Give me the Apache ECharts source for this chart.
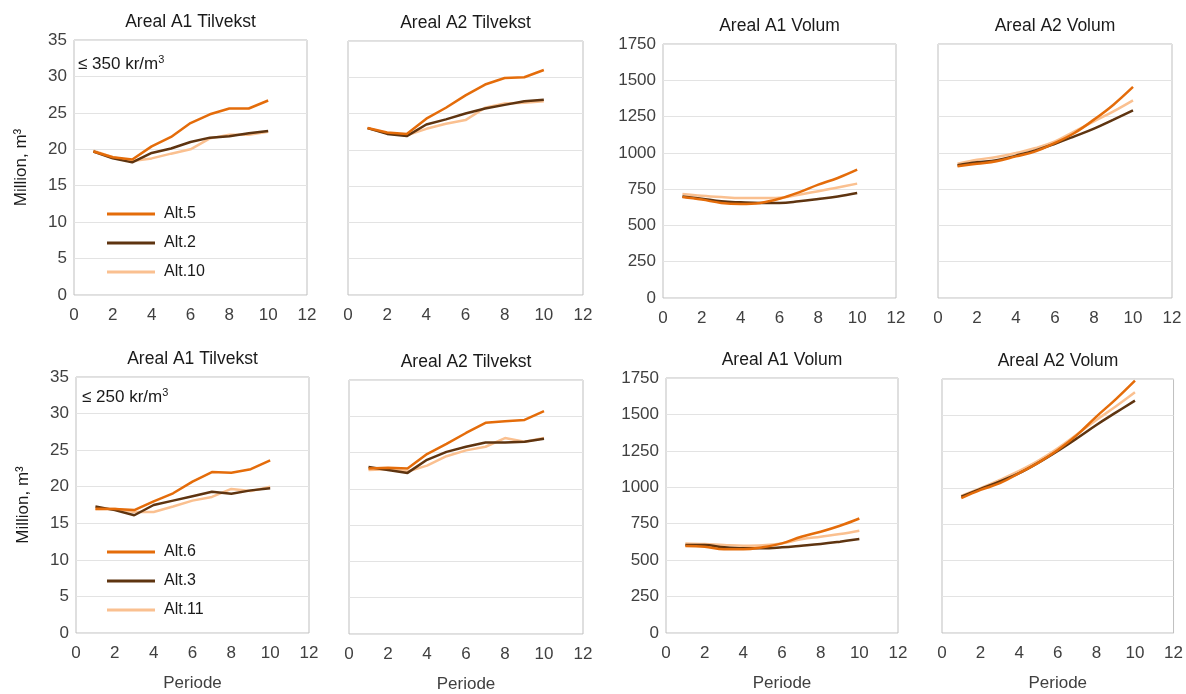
<!DOCTYPE html>
<html>
<head>
<meta charset="utf-8">
<script src="https://cdn.jsdelivr.net/npm/echarts@6/dist/echarts.min.js"></script>
<style>
html,body{margin:0;padding:0;background:#fff;}
#c{width:1186px;height:694px;}
</style>
</head>
<body>
<div id="c"></div>
<script>
// Periods
const periods = [1,2,3,4,5,6,7,8,9,10];
const xTicks = [0,2,4,6,8,10,12];

// Panel titles
const titles = ['Areal A1 Tilvekst','Areal A2 Tilvekst','Areal A1 Volum','Areal A2 Volum'];

// Top row (≤ 350 kr/m3): Alt.5, Alt.2, Alt.10
const topNames = ['Alt.5','Alt.2','Alt.10'];
const a1TilTop_alt5  = [19.7,18.9,18.6,20.4,21.7,23.6,24.8,25.6,25.6,26.7];
const a1TilTop_alt2  = [19.7,18.75,18.2,19.5,20.1,21.0,21.6,21.8,22.2,22.5];
const a1TilTop_alt10 = [19.8,18.9,18.4,18.75,19.4,20.0,21.5,22.0,22.0,22.4];

const a2TilTop_alt5  = [23.0,22.4,22.2,24.3,25.8,27.5,29.0,29.9,30.0,31.0];
const a2TilTop_alt2  = [23.0,22.2,21.9,23.5,24.2,25.0,25.7,26.2,26.7,26.9];
const a2TilTop_alt10 = [23.0,22.3,22.0,22.9,23.6,24.1,25.8,26.4,26.5,26.7];

const a1VolTop_alt5  = [696,678,655,648,655,684,728,781,827,884];
const a1VolTop_alt2  = [700,684,666,659,655,655,666,682,700,723];
const a1VolTop_alt10 = [717,705,696,689,689,691,712,735,762,788];

const a2VolTop_alt5  = [907,925,942,976,1010,1068,1137,1229,1332,1454];
const a2VolTop_alt2  = [914,935,949,981,1017,1063,1114,1167,1229,1293];
const a2VolTop_alt10 = [925,953,971,999,1033,1079,1148,1217,1286,1362];

// Bottom row (≤ 250 kr/m3): Alt.6, Alt.3, Alt.11
const botNames = ['Alt.6','Alt.3','Alt.11'];
const a1TilBot_alt6  = [17.0,16.95,16.8,18.0,19.1,20.7,22.0,21.9,22.4,23.6];
const a1TilBot_alt3  = [17.3,16.8,16.1,17.5,18.1,18.7,19.3,19.05,19.5,19.8];
const a1TilBot_alt11 = [16.9,17.0,16.55,16.55,17.3,18.1,18.6,19.7,19.4,20.0];

const a2TilBot_alt6  = [22.8,22.9,22.8,24.8,26.2,27.7,29.1,29.3,29.5,30.7];
const a2TilBot_alt3  = [23.0,22.6,22.2,24.0,25.1,25.8,26.4,26.4,26.5,26.9];
const a2TilBot_alt11 = [22.6,22.7,22.4,23.2,24.5,25.3,25.8,27.0,26.5,27.0];

const a1VolBot_alt6  = [597,592,574,574,588,615,661,695,736,786];
const a1VolBot_alt3  = [604,604,588,581,581,588,599,611,627,645];
const a1VolBot_alt11 = [615,611,604,599,602,615,643,661,679,702];

const a2VolBot_alt6  = [929,986,1032,1101,1174,1261,1365,1491,1610,1739];
const a2VolBot_alt3  = [940,993,1044,1101,1174,1255,1342,1433,1518,1601];
const a2VolBot_alt11 = [945,998,1055,1117,1188,1273,1369,1468,1560,1658];

const annotTop = '≤ 350 kr/m';
const annotBot = '≤ 250 kr/m';

const colors = ['#E46C0A','#5E3410','#FAC090'];
const FONT = '"Liberation Sans", Arial, sans-serif';
const TXT = '#404040';

const grids = [
  {left:74, top:40, width:233, height:255},
  {left:348, top:41, width:235, height:254},
  {left:663, top:44, width:233, height:254},
  {left:938, top:44, width:234, height:254},
  {left:76, top:377, width:233, height:256},
  {left:349, top:380, width:234, height:255},
  {left:666, top:378, width:232, height:255},
  {left:942, top:379, width:232, height:254}
];

const panelData = [
  [a1TilTop_alt5,a1TilTop_alt2,a1TilTop_alt10],
  [a2TilTop_alt5,a2TilTop_alt2,a2TilTop_alt10],
  [a1VolTop_alt5,a1VolTop_alt2,a1VolTop_alt10],
  [a2VolTop_alt5,a2VolTop_alt2,a2VolTop_alt10],
  [a1TilBot_alt6,a1TilBot_alt3,a1TilBot_alt11],
  [a2TilBot_alt6,a2TilBot_alt3,a2TilBot_alt11],
  [a1VolBot_alt6,a1VolBot_alt3,a1VolBot_alt11],
  [a2VolBot_alt6,a2VolBot_alt3,a2VolBot_alt11]
];

const xAxes = [], yAxes = [], series = [], graphics = [];
grids.forEach((g, i) => {
  const col = i % 4;
  const row = Math.floor(i / 4);
  const isVol = col >= 2;
  xAxes.push({
    type:'value', gridIndex:i, min:0, max:12, interval:2,
    axisLine:{show:false}, axisTick:{show:false}, splitLine:{show:false},
    axisLabel:{fontFamily:FONT, fontSize:17, color:TXT, margin:12},
    name: row === 1 ? 'Periode' : '', nameLocation:'middle', nameGap:42,
    nameTextStyle:{fontFamily:FONT, fontSize:17, color:TXT}
  });
  yAxes.push({
    type:'value', gridIndex:i, min:0, max: isVol ? 1750 : 35, interval: isVol ? 250 : 5,
    axisLine:{show:false}, axisTick:{show:false},
    splitLine:{show:true, lineStyle:{color:'#E3E3E3', width:1}},
    axisLabel:{show: col === 0 || col === 2, fontFamily:FONT, fontSize:17, color:TXT, margin:7,
      formatter: v => String(v)},
    name: col === 0 ? 'Million, m³' : '', nameLocation:'middle', nameRotate:90, nameGap:44,
    nameTextStyle:{fontFamily:FONT, fontSize:17, color:'#1a1a1a'}
  });
  const names = row === 0 ? topNames : botNames;
  panelData[i].forEach((arr, k) => {
    series.push({
      type:'line', name:names[k], xAxisIndex:i, yAxisIndex:i,
      data: periods.map((p, j) => [p, arr[j]]),
      showSymbol:false, symbol:'none', smooth: isVol ? 0.4 : false,
      lineStyle:{color:colors[k], width:2.5}, itemStyle:{color:colors[k]},
      z: 3 - k + 2
    });
  });
  graphics.push({
    type:'text', x: g.left + g.width/2, y: g.top - 18,
    style:{text:titles[col], font:'17.5px ' + FONT, fill:'#1a1a1a', textAlign:'center', verticalAlign:'middle'}
  });
});

function annot(x, y, txt) {
  return {
    type:'text', x:x, y:y,
    style:{
      text: txt + '{s|3}',
      font:'17px ' + FONT, fill:'#1a1a1a', verticalAlign:'middle',
      rich:{s:{fontSize:11, fontFamily:FONT, fill:'#1a1a1a', verticalAlign:'top', padding:[0,0,9,0]}}
    }
  };
}
graphics.push(annot(78, 64, annotTop));
graphics.push(annot(82, 397, annotBot));

const legendBase = {
  orient:'vertical', left:102, itemWidth:48, itemHeight:3, icon:'rect',
  itemGap:11, selectedMode:false,
  textStyle:{fontFamily:FONT, fontSize:16, color:'#1a1a1a', lineHeight:18, padding:[0,0,0,4]}
};

const chart = echarts.init(document.getElementById('c'), null, {renderer:'canvas'});
chart.setOption({
  backgroundColor:'#fff',
  animation:false,
  grid: grids.map(g => Object.assign({show:true, borderColor:'#BFBFBF', borderWidth:1, backgroundColor:'#fff'}, g)),
  xAxis: xAxes,
  yAxis: yAxes,
  legend:[
    Object.assign({}, legendBase, {top:200, data:topNames}),
    Object.assign({}, legendBase, {top:538, data:botNames})
  ],
  series: series,
  graphic: graphics
});
</script>
</body>
</html>
